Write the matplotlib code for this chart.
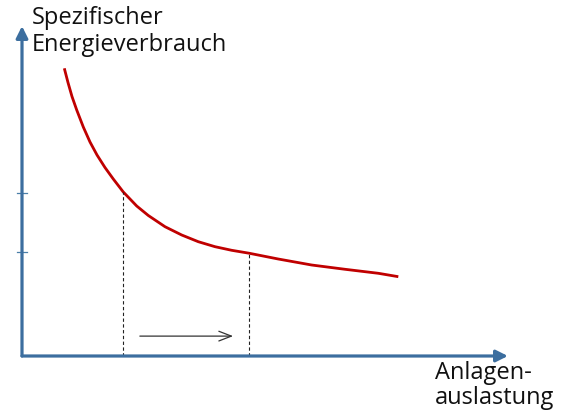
import matplotlib
matplotlib.use("Agg")
import matplotlib.pyplot as plt

# Curve: specific energy consumption vs. plant utilisation (relative units)
auslastung = [8.76, 9.52, 10.35, 11.33, 12.69, 14.08, 15.53, 17.18, 18.90, 20.97,
              23.75, 26.15, 29.61, 33.06, 36.50, 39.96, 43.42, 47.00, 53.06, 59.98,
              66.87, 73.77, 77.91]
verbrauch = [88.25, 83.90, 79.60, 75.46, 70.25, 65.64, 61.66, 57.82, 54.29, 50.31,
             46.01, 43.10, 39.66, 37.12, 35.06, 33.53, 32.42, 31.53, 29.75, 27.91,
             26.60, 25.37, 24.33]

# Two operating points (dashed guides) and y-ticks
punkte_x = [20.97, 47.00]
punkte_y = [50.31, 31.53]
ticks_y = [50.0, 31.9]
# Shift arrow
pfeil_start = 24.4
pfeil_ende = 43.7
pfeil_y = 6.1

ylabel = "Spezifischer\nEnergieverbrauch"
xlabel = "Anlagen-\nauslastung"

W, H = 562, 413
fig = plt.figure(figsize=(W / 100, H / 100), dpi=100)
ax = fig.add_axes([22 / W, (H - 356) / H, 483 / W, 326 / H])
ax.set_xlim(0, 100)
ax.set_ylim(0, 100)
ax.axis("off")

axis_col = "#3C6E9F"
red = "#C00000"

# axes with arrows
ax.annotate("", xy=(100.6, 0), xytext=(0, 0),
            arrowprops=dict(arrowstyle="-|>,head_length=0.7,head_width=0.35",
                            color=axis_col, lw=2.3, shrinkA=0, shrinkB=0),
            annotation_clip=False)
ax.annotate("", xy=(0, 101.2), xytext=(0, 0),
            arrowprops=dict(arrowstyle="-|>,head_length=0.7,head_width=0.35",
                            color=axis_col, lw=2.3, shrinkA=0, shrinkB=0),
            annotation_clip=False)

# y tick marks
for yv in ticks_y:
    ax.plot([-1.0, 1.0], [yv, yv], color="#4A7FA8", lw=0.9, clip_on=False)

# curve
ax.plot(auslastung, verbrauch, color=red, lw=2.0, solid_capstyle="butt",
        solid_joinstyle="round", clip_on=False)

# dashed guides
for xv, yv in zip(punkte_x, punkte_y):
    ax.plot([xv, xv], [0, yv], color="#222222", lw=0.8, ls=(0, (3, 2.2)), clip_on=False)

# shift arrow
ax.annotate("", xy=(pfeil_ende, pfeil_y), xytext=(pfeil_start, pfeil_y),
            arrowprops=dict(arrowstyle="->,head_length=0.9,head_width=0.35",
                            color="#333333", lw=0.9, shrinkA=0, shrinkB=0))

font = "Open Sans"
fig.text(32 / W, 1 - 6 / H, ylabel, ha="left", va="top", fontsize=17,
         family=font, color="#111111", linespacing=1.18)
fig.text(435 / W, 1 - 361 / H, xlabel, ha="left", va="top", fontsize=17,
         family=font, color="#111111", linespacing=1.08)

fig.savefig("out.png", dpi=100, facecolor="white")
